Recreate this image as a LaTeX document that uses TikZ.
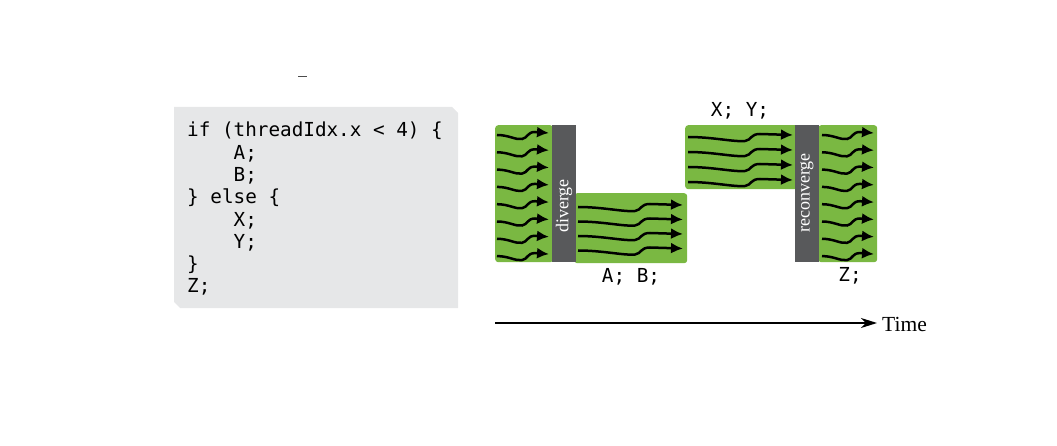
\documentclass[tikz,border=0pt]{standalone}
\usepackage{fontspec}
\setmainfont{Liberation Serif}
\newfontfamily\codefont{DejaVu Sans Mono}
\usetikzlibrary{arrows.meta,positioning}
\definecolor{warpgreen}{RGB}{122,184,66}
\definecolor{bargray}{RGB}{88,89,91}
\definecolor{codegray}{RGB}{230,231,232}
\newcommand{\codeindent}{\hphantom{0000}}
\tikzset{
  warp/.style={fill=warpgreen, rounded corners=3pt, inner sep=0pt, anchor=north west},
  syncbar/.style={fill=bargray, inner sep=0pt, anchor=north west, minimum width=24pt, minimum height=137pt},
  barlabel/.style={text=white, font=\fontsize{18}{18}\selectfont, rotate=90, anchor=west, inner sep=0pt},
  codetext/.style={font=\codefont\fontsize{19.3}{22.3}\selectfont, inner sep=0pt, anchor=base west},
  thread/.style={line width=2.5pt, -{Latex[length=12pt,width=11pt]}},
}

\begin{document}
\begin{tikzpicture}[x=1pt,y=-1pt,>=Latex]
\useasboundingbox (0,0) rectangle (1057,446);

\draw[black!70, line width=1pt] (298,77) -- (307,77);

% code listing
\fill[codegray] (174,107) -- (452,107) -- (458,113) -- (458,308) -- (180,308) -- (174,302) -- cycle;
\node[codetext, align=left] (code) at (187,293) {if (threadIdx.x < 4) \{\\
\codeindent A;\\
\codeindent B;\\
\} else \{\\
\codeindent X;\\
\codeindent Y;\\
\}\\
Z;};

% warps
\node[warp, minimum width=58pt, minimum height=137pt] (pre) at (495,125) {};
\node[warp, minimum width=113pt, minimum height=70pt] (ab) at (574,193) {};
\node[warp, minimum width=113pt, minimum height=64pt] (xy) at (685,125) {};
\node[warp, minimum width=59pt, minimum height=137pt] (post) at (818,125) {};
\node[syncbar] (div) at (552,125) {};
\node[syncbar] (conv) at (795,125) {};
\node[barlabel] (divtext) at (564,233) {diverge};
\node[barlabel] (convtext) at (807,233) {reconverge};

% threads
\foreach \sx in {497,822}
  \foreach \i in {0,...,7} {
    \pgfmathsetmacro\ty{133+17.3*\i}
    \draw[thread] (\sx,\ty+2) .. controls (\sx+12,\ty+2) and (\sx+18,\ty+7) .. (\sx+25,\ty+6)
      .. controls (\sx+31,\ty+5) and (\sx+30,\ty-1) .. (\sx+38,\ty-1) -- (\sx+52,\ty);
  }
\foreach \sx/\tz/\dy in {578/205/14.5,688/135/15}
  \foreach \i in {0,...,3} {
    \pgfmathsetmacro\ty{\tz+\dy*\i}
    \draw[thread] (\sx,\ty+2) .. controls (\sx+25,\ty+2) and (\sx+45,\ty+7) .. (\sx+57,\ty+6)
      .. controls (\sx+64,\ty+5) and (\sx+62,\ty-1) .. (\sx+72,\ty-1) -- (\sx+105,\ty);
  }

\node[codetext, anchor=base] (xylabel) at (740,117) {X; Y;};
\node[codetext, anchor=base] (ablabel) at (631,283) {A; B;};
\node[codetext, anchor=base] (zlabel) at (850,282) {Z;};

% time axis
\coordinate (tstart) at (495,323);
\node[anchor=base west, font=\fontsize{21.5}{21.5}\selectfont, inner sep=5pt] (time) at (877,331) {Time};
\draw[line width=1.6pt, -{Stealth[length=16pt,width=10pt,inset=5pt]}] (tstart) -- (tstart -| time.west);
\end{tikzpicture}
\end{document}
